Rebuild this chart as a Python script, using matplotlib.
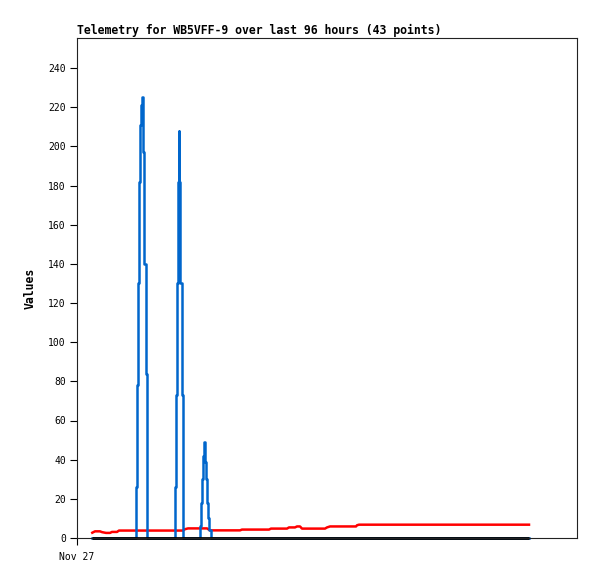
import matplotlib
matplotlib.use('Agg')
import matplotlib.pyplot as plt

# hours since Nov 27 00:00
blue_t = [3.06, 11.74, 11.86, 12.06, 12.26, 12.46, 12.66, 12.86, 13.06, 13.26, 13.46, 13.74, 13.94, 14.06,
          19.54, 19.66, 19.86, 20.0, 20.14, 20.3, 20.46, 20.66, 20.94, 21.14, 21.26,
          24.5, 24.6, 24.74, 24.94, 25.14, 25.34, 25.5, 25.66, 25.8, 26.0, 26.26, 26.46, 26.74, 90.4]
blue_v = [0, 0, 26, 78, 130, 182, 211, 221, 225, 197, 140, 84, 28, 0,
          0, 26, 73, 130, 182, 208, 182, 130, 73, 26, 0,
          0, 6, 18, 30, 42, 49, 43, 39, 30, 18, 10, 4, 0, 0]

red_t = [3.06, 3.6, 4.6, 5.0, 5.8, 6.6, 7.0, 8.0, 8.4, 21.2, 21.6, 22.2, 26.0, 26.6, 32.6, 33.0,
         38.4, 38.8, 42.0, 42.4, 43.6, 44.0, 44.6, 45.0, 49.6, 50.0, 50.6, 55.8, 56.0, 56.4, 90.4]
red_v = [2.7, 3.4, 3.4, 3.0, 2.6, 2.6, 3.1, 3.1, 3.8, 3.8, 4.5, 4.9, 4.9, 3.9, 3.9, 4.3,
         4.3, 4.8, 4.8, 5.4, 5.4, 5.9, 5.9, 4.8, 4.8, 5.4, 5.9, 5.9, 6.5, 6.8, 6.8]

black_t = [3.06, 90.4]
black_v = [0, 0]

yticks = list(range(0, 241, 20))
xtick_labels = ['Nov 27']

fig = plt.figure(figsize=(5.97, 5.79), dpi=100)
ax = fig.add_axes([77 / 597, 1 - 538 / 579, 500 / 597, 500 / 579])

ax.plot(red_t, red_v, color='#ff0000', lw=1.8, clip_on=False)
ax.plot(blue_t, blue_v, color='#0066cc', lw=1.8, clip_on=False, drawstyle='steps-post')
ax.plot(black_t, black_v, color='black', lw=2.0, clip_on=False, solid_capstyle='butt')

ax.set_xlim(0, 100)
ax.set_ylim(0, 500 / (470 / 240))
ax.set_yticks(yticks)
ax.set_xticks([0])
ax.set_xticklabels(xtick_labels)
ax.tick_params(axis='both', direction='out', length=5, width=0.8, labelsize=7, pad=3)
ax.tick_params(axis='x', pad=5)
for lab in ax.get_xticklabels() + ax.get_yticklabels():
    lab.set_family('DejaVu Sans Mono')

for s in ax.spines.values():
    s.set_linewidth(0.8)
    s.set_color('#222222')

ax.set_title('Telemetry for WB5VFF-9 over last 96 hours (43 points)', loc='left',
             fontsize=8.3, fontweight='bold', family='DejaVu Sans Mono', pad=3)
ax.set_ylabel('Values', fontsize=8.3, fontweight='bold', family='DejaVu Sans Mono', labelpad=8)

fig.savefig('out.png', dpi=100)
